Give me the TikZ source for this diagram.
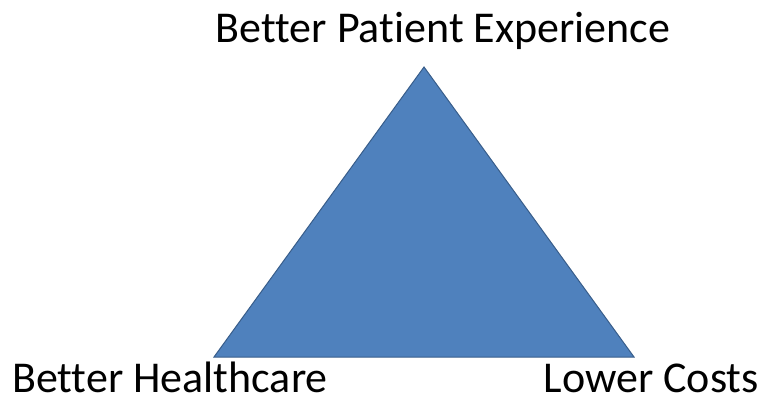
\documentclass[tikz,border=0pt]{standalone}
\usepackage{fontspec}
\setmainfont{Carlito}[Ligatures={NoCommon}]
\definecolor{triblue}{HTML}{4F81BD}
\definecolor{triedge}{HTML}{385D8A}
\begin{document}
\begin{tikzpicture}[x=1pt, y=-1pt, font=\fontsize{44}{48}\selectfont]
\useasboundingbox (0,0) rectangle (765,396);
\coordinate (top) at (424,67);
\coordinate (left) at (214,357);
\coordinate (right) at (634,357);
\draw[triedge, fill=triblue, line width=1pt] (top)--(left)--(right)--cycle;
\node[anchor=base, inner sep=0pt] (patient) at (443,42) {Better Patient Experience};
\node[anchor=base west, inner sep=0pt, text depth=0pt] (health) at (12,392) {Better Healthcare};
\node[anchor=base east, inner sep=0pt, text depth=0pt] (costs) at (759,392) {Lower Costs};
\end{tikzpicture}
\end{document}
